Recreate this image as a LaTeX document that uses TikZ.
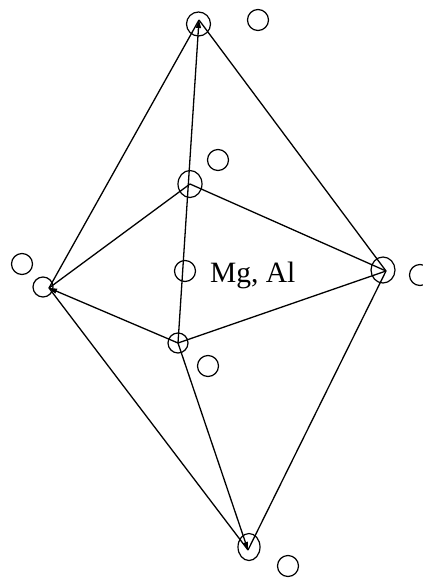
\documentclass[tikz,border=0pt]{standalone}
\usepackage{fontspec}
\usetikzlibrary{arrows.meta,shapes.geometric}
\setmainfont{Liberation Serif}
\tikzset{
  atom/.style={draw=black,ellipse,line width=1.2pt,minimum width=#1,minimum height=#1,inner sep=0pt},
  atom/.default=20pt,
  bondline/.style={draw=black,line width=1.3pt,line join=round},
  tipped/.style={-{Triangle[length=8pt,width=5pt]}},
  labeltext/.style={font=\fontsize{29.5}{32}\selectfont,inner sep=0pt,anchor=base west,text=black}
}
\begin{document}
\begin{tikzpicture}[x=1pt,y=-1pt]
\useasboundingbox[fill=white] (0,0) rectangle (423,579);
% vertices of the octahedron
\coordinate (T) at (199,20);
\coordinate (L) at (49,288);
\coordinate (R) at (386,271);
\coordinate (U) at (190,184);
\coordinate (D) at (178,343);
\coordinate (B) at (248,550);
% atoms on vertices
\node[atom=24pt] (aT) at (198.5,24) {};
\node[atom=20pt] (aL) at (43,287) {};
\node[atom=24pt,minimum height=26pt] (aR) at (383,270) {};
\node[atom=24pt,minimum height=27pt] (aU) at (190,184) {};
\node[atom=20pt] (aD) at (178,343) {};
\node[atom=22pt,minimum height=27pt] (aB) at (249,547) {};
\node[atom=21pt] (aC) at (185,271) {};
% free atoms
\node[atom=21pt] (o1) at (258,20) {};
\node[atom=21pt] (o2) at (218,160) {};
\node[atom=21pt] (o3) at (22,264) {};
\node[atom=21pt] (o4) at (420,275) {};
\node[atom=21pt] (o5) at (208,366) {};
\node[atom=21pt] (o6) at (288,566) {};
% bonds
\draw[bondline] (T) -- (L);
\draw[bondline] (T) -- (R);
\draw[bondline,tipped] (D) -- (T);
\draw[bondline] (U) -- (L);
\draw[bondline] (U) -- (R);
\draw[bondline,tipped] (D) -- (L);
\draw[bondline] (D) -- (R);
\draw[bondline] (B) -- (L);
\draw[bondline] (B) -- (R);
\draw[bondline,tipped] (D) -- (B);
\node[labeltext] (lab) at (210,282) {Mg, Al};
\end{tikzpicture}
\end{document}
